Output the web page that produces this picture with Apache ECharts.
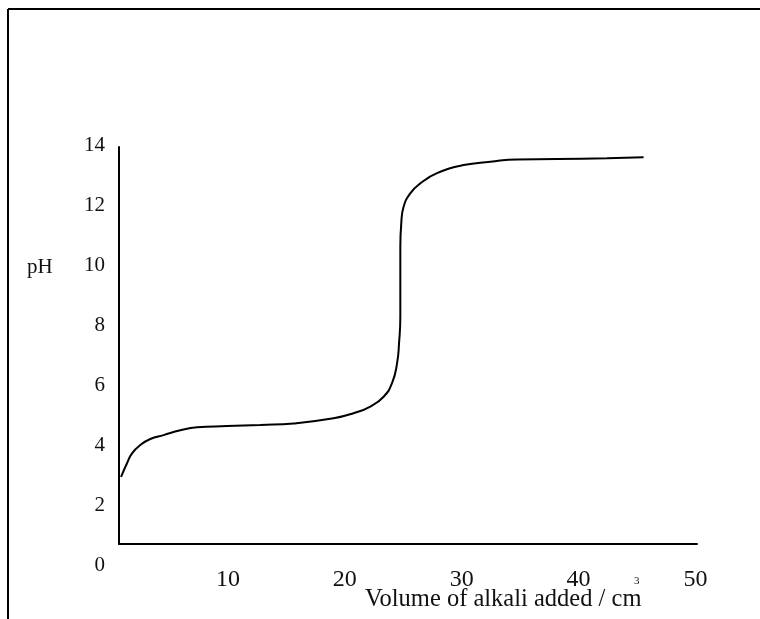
<!DOCTYPE html>
<html>
<head>
<meta charset="utf-8">
<script src="https://cdn.jsdelivr.net/npm/echarts@6/dist/echarts.min.js"></script>
<style>html,body{margin:0;padding:0;background:#fff;}#c{width:760px;height:619px;}</style>
</head>
<body>
<div id="c"></div>
<script>
// Titration curve data
var volume = [0.86, 1.37, 1.80, 2.51, 3.36, 4.50, 5.93, 7.36, 9.92, 12.77, 15.62, 19.04, 20.75, 22.18, 23.32, 24.04, 24.47, 24.64, 24.75, 24.75, 24.75, 24.83, 25.03, 25.60, 26.46, 27.89, 30.16, 32.45, 34.73, 38.15, 42.43, 45.56];
var pH = [2.94, 3.39, 3.72, 4.00, 4.20, 4.33, 4.49, 4.59, 4.63, 4.67, 4.72, 4.89, 5.06, 5.28, 5.61, 6.06, 6.72, 7.39, 8.28, 9.39, 10.61, 11.39, 11.94, 12.39, 12.72, 13.06, 13.33, 13.44, 13.52, 13.53, 13.56, 13.59];
var xTicks = [0, 10, 20, 30, 40, 50];
var yTicks = [0, 2, 4, 6, 8, 10, 12, 14];
var xTitle = 'Volume of alkali added / cm';
var xTitleSup = '3';
var yTitle = 'pH';

var points = volume.map(function (v, i) { return [v, pH[i]]; });
var serif = '"Liberation Serif", "Times New Roman", serif';

var chart = echarts.init(document.getElementById('c'), null, {renderer: 'canvas'});
chart.setOption({
  backgroundColor: '#fff',
  animation: false,
  grid: [
    {left: 111, top: 145, width: 584.5, height: 420},
    {left: 119, top: 147, width: 578, height: 397}
  ],
  xAxis: [
    {
      gridIndex: 0, type: 'value',
      min: xTicks[0], max: xTicks[xTicks.length - 1], interval: 10,
      axisLine: {show: false}, axisTick: {show: false}, splitLine: {show: false},
      axisLabel: {
        margin: 3, color: '#111', fontFamily: serif, fontSize: 24,
        formatter: function (v) { return (v === 0 || xTicks.indexOf(v) < 0) ? '' : String(v); }
      }
    },
    {
      gridIndex: 1, type: 'value', min: 0, max: 1,
      axisLine: {show: true, onZero: false, lineStyle: {color: '#000', width: 2}},
      axisTick: {show: false}, splitLine: {show: false}, axisLabel: {show: false}
    }
  ],
  yAxis: [
    {
      gridIndex: 0, type: 'value',
      min: yTicks[0], max: yTicks[yTicks.length - 1], interval: 2,
      axisLine: {show: false}, axisTick: {show: false}, splitLine: {show: false},
      axisLabel: {margin: 6, color: '#111', fontFamily: serif, fontSize: 21}
    },
    {
      gridIndex: 1, type: 'value', min: 0, max: 1,
      axisLine: {show: true, onZero: false, lineStyle: {color: '#000', width: 2}},
      axisTick: {show: false}, splitLine: {show: false}, axisLabel: {show: false}
    }
  ],
  series: [{
    type: 'line',
    xAxisIndex: 0, yAxisIndex: 0,
    data: points,
    smooth: 0.5,
    showSymbol: false,
    symbol: 'none',
    clip: false,
    lineStyle: {color: '#000', width: 2}
  }],
  graphic: [
    {type: 'line', shape: {x1: 8, y1: 9, x2: 760, y2: 9}, style: {stroke: '#000', lineWidth: 2}},
    {type: 'line', shape: {x1: 8, y1: 9, x2: 8, y2: 619}, style: {stroke: '#000', lineWidth: 2}},
    {type: 'text', left: 27, top: 257, style: {text: yTitle, font: '21px ' + serif, fill: '#111'}},
    {type: 'text', left: 365, top: 587, style: {text: xTitle, font: '24.5px ' + serif, fill: '#111'}},
    {type: 'text', left: 634, top: 576, style: {text: xTitleSup, font: '11px ' + serif, fill: '#111'}}
  ]
});
</script>
</body>
</html>
